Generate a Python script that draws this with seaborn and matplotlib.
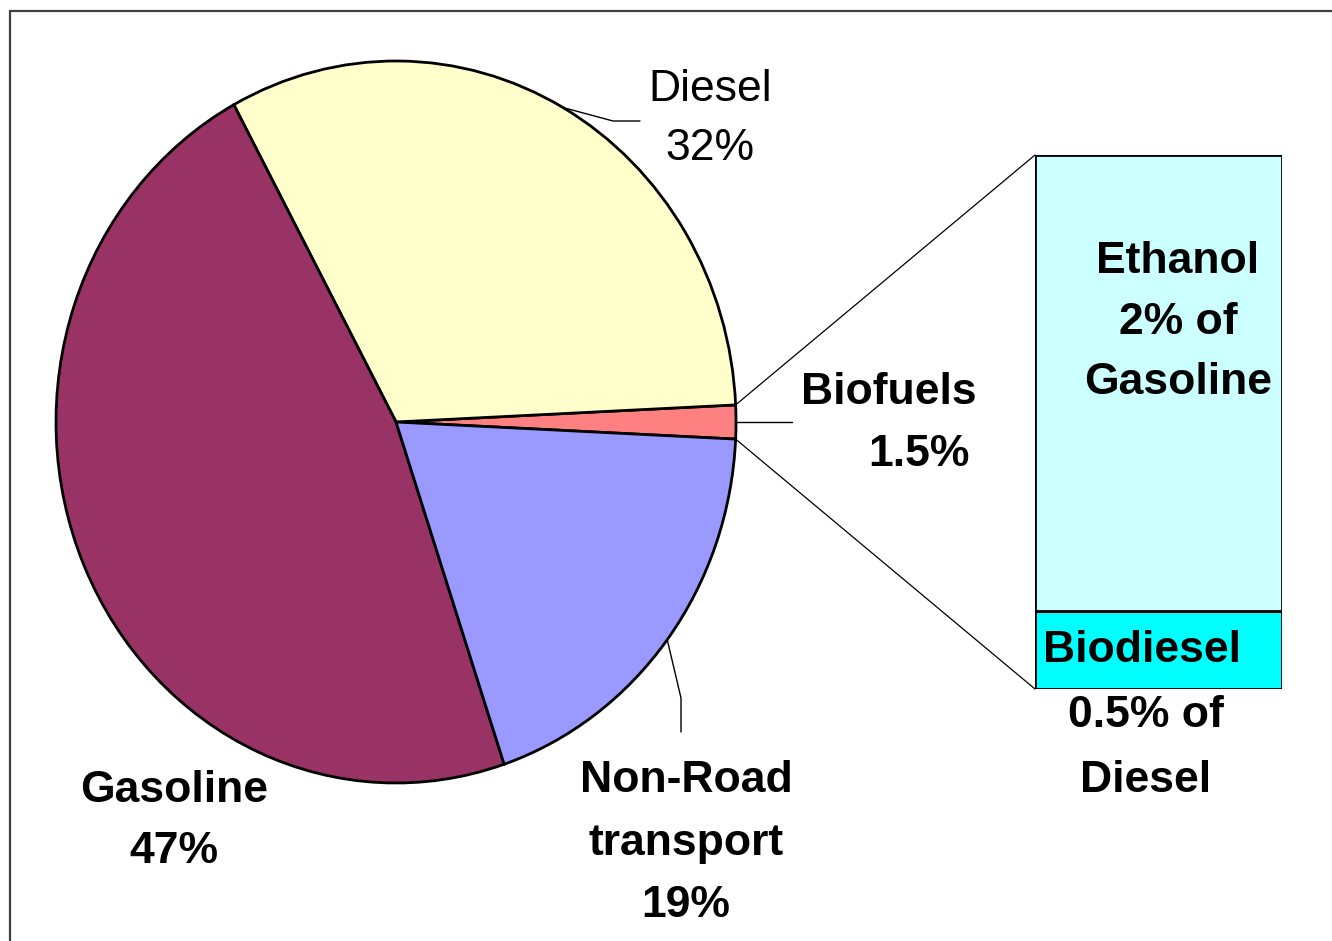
import numpy as np
import matplotlib
matplotlib.use("Agg")
import matplotlib.pyplot as plt
from matplotlib.patches import Rectangle, ConnectionPatch
import seaborn as sns

# ---- data ----
categories = ["Biofuels", "Diesel", "Gasoline", "Non-Road transport"]
shares = [1.5, 32, 47, 19]
pie_colors = ["#FF8080", "#FFFFCC", "#993366", "#9999FF"]

bar_categories = ["Biodiesel", "Ethanol"]
bar_values = [0.16, 0.94]
bar_colors = ["#00FFFF", "#CCFFFF"]

sns.set_theme(style="white")
plt.rcParams["font.family"] = ["Liberation Sans", "DejaVu Sans"]

W, H = 1332, 941
fig = plt.figure(figsize=(W / 100, H / 100), dpi=100)
fig.patch.set_facecolor("white")


def fbox(x0, y0, x1, y1):
    return [x0 / W, 1 - y1 / H, (x1 - x0) / W, (y1 - y0) / H]


def fxy(x, y):
    return (x / W, 1 - y / H)


# ---- pie ----
cx, cy, rx, ry = 396, 422, 340, 361
axp = fig.add_axes(fbox(cx - rx, cy - ry, cx + rx, cy + ry))
total = sum(shares)
start = -shares[0] / total * 180
wedges, _ = axp.pie(shares, colors=pie_colors, startangle=start, counterclock=True,
                    wedgeprops=dict(edgecolor="black", linewidth=2.0))
axp.set_aspect("auto")
axp.set_xlim(-1, 1)
axp.set_ylim(-1, 1)
axp.axis("off")


def px2d(x, y):
    return ((x - cx) / rx, (cy - y) / ry)


def mid_angle(w):
    return np.deg2rad((w.theta1 + w.theta2) / 2)


lw_lead = 1.0
# Diesel leader
a = mid_angle(wedges[1])
p0 = (np.cos(a), np.sin(a))
pts = [p0, px2d(613, 121), px2d(640, 121)]
axp.plot([p[0] for p in pts], [p[1] for p in pts], color="black", lw=lw_lead, clip_on=False)
# Biofuels leader
a = mid_angle(wedges[0])
p0 = (np.cos(a), np.sin(a))
pts = [p0, px2d(792, 422)]
axp.plot([p[0] for p in pts], [p[1] for p in pts], color="black", lw=lw_lead, clip_on=False)
# Non-road leader
a = mid_angle(wedges[3])
p0 = (np.cos(a), np.sin(a))
pts = [p0, px2d(681, 698), px2d(681, 732)]
axp.plot([p[0] for p in pts], [p[1] for p in pts], color="black", lw=lw_lead, clip_on=False)

# ---- bar of pie ----
axb = fig.add_axes(fbox(1035, 155, 1282, 689))
bottom = 0
for c, v, col in zip(bar_categories, bar_values, bar_colors):
    axb.bar(0, v, width=1, bottom=bottom, color=col, edgecolor="black", linewidth=2.0)
    bottom += v
axb.set_xlim(-0.5, 0.5)
axb.set_ylim(0, sum(bar_values))
axb.axis("off")

# connectors
t1 = np.deg2rad(wedges[0].theta2)
t0 = np.deg2rad(wedges[0].theta1)
for ang, yb in [(t1, sum(bar_values)), (t0, 0)]:
    con = ConnectionPatch(xyA=(np.cos(ang), np.sin(ang)), coordsA=axp.transData,
                          xyB=(-0.5, yb), coordsB=axb.transData,
                          color="black", lw=0.9)
    fig.add_artist(con)

# ---- labels ----
fs = 32
fig.text(*fxy(710, 119), "Diesel\n32%", ha="center", va="center", fontsize=fs,
         linespacing=1.55, color="black")
fig.text(*fxy(889, 392), "Biofuels", ha="center", va="center", fontsize=fs,
         fontweight="bold", color="black")
fig.text(*fxy(919, 455), "1.5%", ha="center", va="center", fontsize=fs,
         fontweight="bold", color="black")
fig.text(*fxy(686, 843), "Non-Road\ntransport\n19%", ha="center", va="center",
         fontsize=fs, fontweight="bold", linespacing=1.68, color="black")
fig.text(*fxy(174, 821), "Gasoline\n47%", ha="center", va="center", fontsize=fs,
         fontweight="bold", linespacing=1.6, color="black")
fig.text(*fxy(1178, 322), "Ethanol\n2% of\nGasoline", ha="center", va="center",
         fontsize=fs, fontweight="bold", linespacing=1.62, color="black")
fig.text(*fxy(1043, 650), "Biodiesel", ha="left", va="center", fontsize=fs,
         fontweight="bold", color="black")
fig.text(*fxy(1146, 748), "0.5% of\nDiesel", ha="center", va="center", fontsize=fs,
         fontweight="bold", linespacing=1.72, color="black")

# outer frame
fig.add_artist(Rectangle((10.5 / W, -0.1), 2.0, 1 - 10.5 / H + 0.1,
                         transform=fig.transFigure, fill=False,
                         edgecolor="#404040", lw=1.6))

fig.savefig("out.png", dpi=100, facecolor="white")
